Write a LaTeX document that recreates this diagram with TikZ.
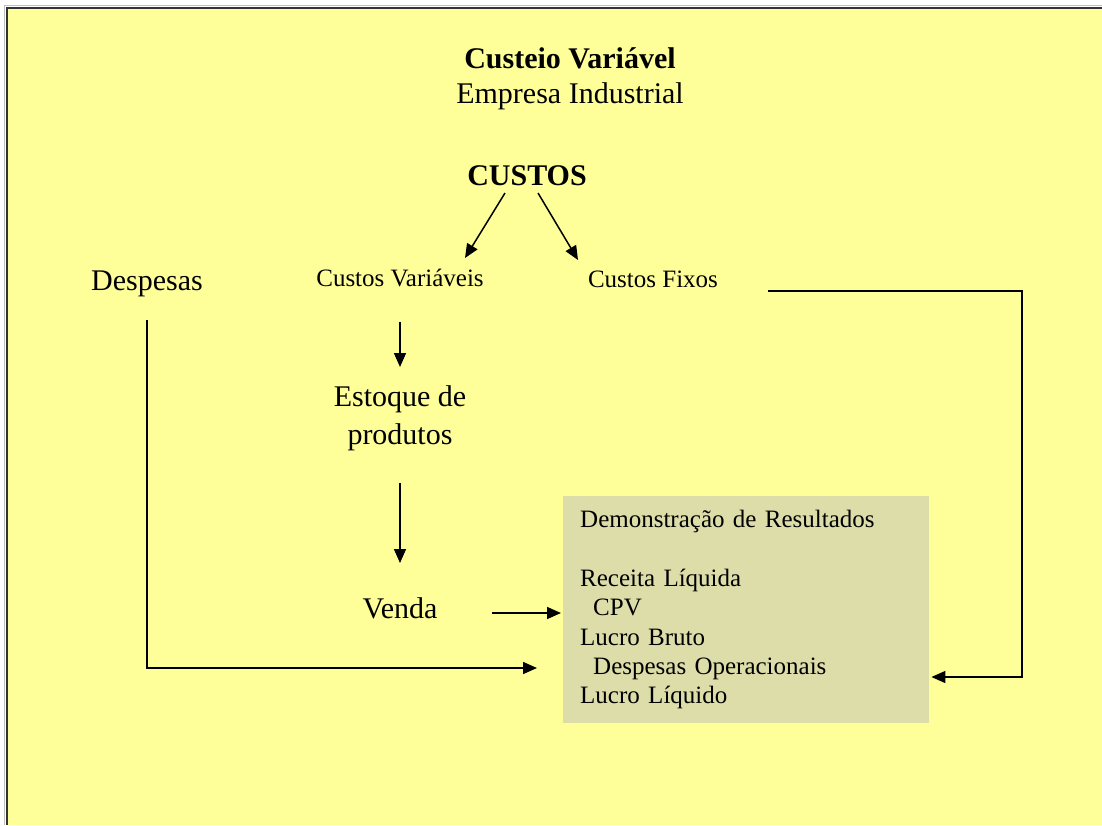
\documentclass[tikz,border=0pt]{standalone}
\usepackage{fontspec}
\setmainfont{Liberation Serif}
\usetikzlibrary{arrows.meta, positioning}
\definecolor{fundo}{RGB}{255,255,153}
\definecolor{caixa}{RGB}{221,221,170}
\tikzset{
    seta/.style={-{Triangle[length=14pt,width=12pt]}, line width=1.5pt}, % setas cheias
    grande/.style={font=\fontsize{30}{38}\selectfont, inner sep=0pt, anchor=base},
    titulo/.style={font=\bfseries\fontsize{30}{38}\selectfont, inner sep=0pt, anchor=base},
    media/.style={font=\fontsize{25}{29}\selectfont, inner sep=0pt, anchor=base},
    demonstracao/.style={fill=caixa, anchor=north west, align=left, text width=332pt,
        inner xsep=17pt, minimum width=366pt, minimum height=227pt,
        font=\fontsize{25}{29.3}\selectfont},
}

\begin{document}
\begin{tikzpicture}[x=1pt, y=-1pt]
    \useasboundingbox (0,0) rectangle (1102,825);
    \fill[white] (0,0) rectangle (1102,825);
    \fill[fundo] (7,8) rectangle (1102,825);
    \draw[gray!50, line width=1.5pt] (4.5,825) -- (4.5,5.5) -- (1102,5.5);
    \draw[black!80, line width=2pt] (7,825) -- (7,8) -- (1102,8);

    \node[titulo] (custeio) at (570,68) {Custeio Variável};
    \node[grande] (empresa) at (570,103) {Empresa Industrial};
    \node[titulo] (custos) at (527,185) {CUSTOS};
    \node[media] (cvar) at (400,286) {Custos Variáveis};
    \node[media] (cfix) at (653,287) {Custos Fixos};
    \node[grande] (desp) at (147,290) {Despesas};
    \node[grande] (estoque) at (400,406) {Estoque de};
    \node[grande] (produtos) at (400,444) {produtos};
    \node[grande] (venda) at (400,618) {Venda};
    \node[demonstracao] (dre) at (563,496) {Demonstração de Resultados\\[29.3pt]
        Receita Líquida\\
        \hspace*{13pt}CPV\\
        Lucro Bruto\\
        \hspace*{13pt}Despesas Operacionais\\
        Lucro Líquido};

    \draw[seta] ([shift={(-22,8)}]custos.base) -- ([shift={(65,-28)}]cvar.base);
    \draw[seta] ([shift={(11,8)}]custos.base) -- ([shift={(-75,-27)}]cfix.base);
    \draw[seta] ([shift={(0,36)}]cvar.base) -- ([shift={(0,-39)}]estoque.base);
    \draw[seta] ([shift={(0,39)}]produtos.base) -- ([shift={(0,-55)}]venda.base);
    \draw[seta] ([shift={(92,-5)}]venda.base) -- ([shift={(-2,117)}]dre.north west);
    \draw[seta] ([shift={(0,30)}]desp.base) |- ([shift={(-26,172)}]dre.north west);
    \draw[seta] ([shift={(115,4)}]cfix.base) -- ++(254,0) |- ([shift={(2,181)}]dre.north east);
\end{tikzpicture}
\end{document}
